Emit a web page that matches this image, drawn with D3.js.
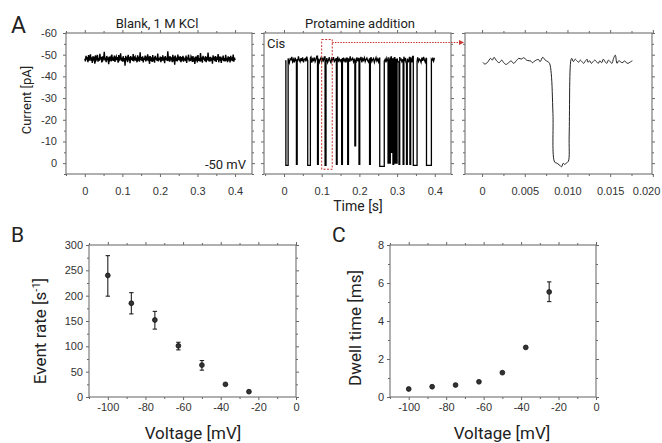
<!DOCTYPE html>
<html>
<head>
<meta charset="utf-8">
<script src="https://cdn.jsdelivr.net/npm/d3@7"></script>
<style>
    body { margin: 0; background: #fff; }
    svg { font-family: Roboto, "Noto Sans", sans-serif; }
    .tick line { stroke: #666; }
    .tick text { fill: #333; font-size: 11px; }
</style>
</head>
<body>
<svg id="vis" width="662" height="443"></svg>
<script>
// ---- data ----

// panel A, left: blank recording (pA), evenly sampled over 0 .. 0.4 s
const blankTrace = [
    -48.2,-46.9,-49.5,-47.8,-48.9,-46.5,-49.8,-47.3,-48.6,-50.2,
    -47.1,-48.8,-46.2,-49.3,-47.9,-48.4,-45.9,-49.7,-47.5,-48.1,
    -49.9,-46.8,-48.5,-47.2,-50.4,-47.7,-48.9,-46.4,-49.2,-47.6,
    -48.3,-51.3,-47.4,-48.7,-46.6,-49.4,-47.9,-48.2,-45.6,-49.1,
    -47.8,-48.6,-46.9,-50.1,-47.3,-48.8,-47.1,-49.6,-46.7,-48.4,
    -49.2,-47.5,-48.9,-46.3,-49.8,-47.6,-48.1,-50.6,-47.2,-48.7,
    -46.8,-49.3,-47.7,-48.5,-44.9,-49.5,-47.4,-48.2,-46.6,-49.9,
    -47.9,-48.3,-46.1,-49.4,-47.6,-48.8,-47.2,-50.3,-46.9,-48.6,
    -49.1,-47.3,-48.7,-46.5,-49.7,-47.8,-48.4,-46.8,-51.1,-47.5,
    -48.9,-47.1,-49.2,-46.4,-48.6,-47.7,-49.6,-46.9,-48.3,-47.4,
    -50.2,-47.9,-48.5,-45.8,-49.3,-47.2,-48.8,-46.7,-49.8,-47.6,
    -48.1,-46.3,-49.5,-47.8,-48.7,-47.1,-50.5,-46.9,-48.4,-47.5,
    -49.1,-46.6,-48.9,-47.3,-49.7,-47.8,-48.2,-46.1,-49.4,-47.6,
    -48.6,-47.2,-51.6,-47.9,-48.5,-46.8,-49.2,-47.4,-48.8,-46.5,
    -49.9,-47.7,-48.3,-45.4,-49.6,-47.1,-48.7,-46.9,-50.1,-47.5,
    -48.4,-47.8,-49.3,-46.6,-48.9,-47.3,-49.5,-46.8,-48.2,-47.6,
    -47.4,-49.6,-46.2,-48.8,-47.7,-50.0,-46.9,-48.3,-47.1,-49.2,
    -48.5,-46.7,-49.4,-47.5,-48.0,-45.7,-49.1,-47.9,-48.6,-46.4,
    -49.8,-47.2,-48.4,-46.9,-50.7,-47.6,-48.1,-46.3,-49.5,-47.8,
    -48.7,-47.0,-49.3,-46.6,-48.9,-47.4,-51.0,-47.7,-48.2,-46.8,
    -49.0,-47.3,-48.6,-45.9,-49.7,-47.5,-48.3,-47.1,-49.4,-46.7,
    -48.8,-47.6,-50.3,-46.5,-48.5,-47.9,-49.1,-46.2,-48.7,-47.4,
    -49.6,-47.0,-48.4,-46.9,-49.9,-47.7,-48.0,-46.6,-49.2,-47.3,
    -48.9,-46.4,-49.5,-47.8,-48.2,-47.1,-50.1,-46.8,-48.6,-47.5
];
const blankSpan = [0, 0.4];

// panel A, middle: open-pore baseline (pA), evenly sampled over 0.003 .. 0.399 s
const cisBaseline = [
    -47.1,-48.3,-46.6,-48.9,-47.4,-46.2,-48.1,-47.7,-49.0,-46.8,
    -47.9,-46.4,-48.6,-47.2,-48.0,-46.9,-49.2,-47.5,-46.7,-48.4,
    -47.0,-48.8,-46.5,-47.8,-48.2,-46.9,-49.1,-47.3,-48.5,-46.6,
    -47.6,-48.9,-46.3,-48.0,-47.4,-48.7,-46.8,-47.9,-49.3,-47.1,
    -48.2,-46.5,-47.7,-48.6,-46.9,-48.1,-47.3,-49.0,-46.7,-47.8,
    -48.4,-46.4,-47.5,-48.8,-47.0,-46.3,-48.3,-47.6,-48.9,-46.8,
    -47.4,-48.2,-46.6,-49.1,-47.2,-48.0,-46.9,-47.7,-48.5,-46.5,
    -48.6,-47.1,-47.9,-46.4,-48.7,-47.5,-48.1,-46.8,-49.2,-47.3,
    -47.8,-48.4,-46.7,-48.0,-47.6,-46.2,-48.8,-47.0,-48.3,-46.9,
    -47.7,-49.0,-46.5,-48.2,-47.4,-48.6,-46.8,-47.9,-48.5,-47.2,
    -46.6,-48.1,-47.5,-48.9,-46.9,-47.8,-48.3,-46.4,-47.6,-48.7,
    -47.1,-48.0,-46.7,-48.4,-47.3,-46.9,-48.2,-47.7,-48.6,-47.0,
    -47.9,-46.5,-48.4,-47.2,-48.8,-46.7,-47.6,-49.0,-46.9,-48.1,
    -47.3,-48.6,-46.4,-47.8,-48.3,-47.0,-46.6,-48.9,-47.5,-48.0,
    -46.8,-47.7,-49.1,-47.1,-48.5,-46.3,-48.2,-47.4,-46.9,-48.7,
    -47.6,-48.1,-46.5,-49.2,-47.0,-47.9,-48.4,-46.7,-47.3,-48.8,
    -46.9,-48.0,-47.5,-46.4,-48.6,-47.2,-49.0,-47.7,-46.6,-48.3,
    -47.8,-46.9,-48.5,-47.1,-48.9,-46.5,-47.4,-48.2,-47.0,-48.6
];
const cisSpan = [0.003, 0.399];

// blockade events: [start s, end s, blocked current pA]
const cisEvents = [
    [0.005, 0.011, 1.0], [0.033, 0.035, 0.5], [0.063, 0.070, 1.0], [0.089, 0.091, 0.5],
    [0.109, 0.1115, 1.0], [0.139, 0.141, 0.5], [0.153, 0.155, 0.5], [0.169, 0.171, 0.5],
    [0.188, 0.190, -8.0], [0.199, 0.201, 0.5], [0.227, 0.229, 0.5], [0.254, 0.266, 1.5],
    [0.276, 0.278, 0.0], [0.280, 0.282, 0.0], [0.285, 0.287, -5.0], [0.289, 0.291, 0.5],
    [0.294, 0.296, 0.0], [0.298, 0.300, 0.0], [0.305, 0.307, 0.5], [0.316, 0.318, 0.5],
    [0.325, 0.327, 0.5], [0.334, 0.336, 0.5], [0.343, 0.353, 1.0], [0.378, 0.391, 1.0]
];

// zoomed window on the middle trace [s] and its current range [pA]
const zoomWindow = [0.1, 0.128];
const zoomWindowCurrent = [-57, 2.8];

// panel A, right: single event [time s, current pA]
const zoomTrace = [
    [0.0001,-46.5],[0.0003,-45.7],[0.0006,-46.3],[0.0010,-48.3],[0.0012,-47.5],[0.0014,-48.8],
    [0.0017,-47.2],[0.0020,-46.3],[0.0023,-47.5],[0.0025,-46.5],[0.0028,-45.5],[0.0031,-46.3],
    [0.0034,-47.1],[0.0037,-46.0],[0.0040,-47.2],[0.0043,-48.3],[0.0046,-48.0],[0.0049,-48.6],
    [0.0052,-47.5],[0.0055,-47.2],[0.0057,-47.1],[0.0059,-46.3],[0.0062,-47.2],[0.0066,-47.8],
    [0.0068,-46.8],[0.0071,-48.8],[0.0074,-47.5],[0.0077,-46.8],[0.0079,-46.0],[0.0081,-41.3],
    [0.0083,-22.9],[0.0085,-0.5],[0.0088,0.1],[0.0091,1.0],[0.0093,1.7],[0.0095,0.1],
    [0.0097,0.6],[0.0099,-0.2],[0.0101,-0.8],[0.0102,-13.0],[0.0104,-47.5],[0.0105,-48.3],
    [0.0107,-46.8],[0.0109,-47.9],[0.0111,-47.2],[0.0113,-46.5],[0.0115,-47.5],[0.0117,-46.8],
    [0.0119,-46.0],[0.0121,-47.1],[0.0123,-47.9],[0.0124,-46.5],[0.0126,-47.2],[0.0128,-46.0],
    [0.0130,-46.8],[0.0132,-47.5],[0.0134,-46.8],[0.0136,-46.0],[0.0138,-47.2],[0.0140,-46.3],
    [0.0142,-47.9],[0.0144,-46.8],[0.0146,-46.0],[0.0148,-47.5],[0.0150,-46.8],[0.0152,-46.0],
    [0.0154,-48.3],[0.0156,-49.8],[0.0158,-46.0],[0.0160,-47.2],[0.0162,-46.8],[0.0164,-46.3],
    [0.0166,-46.8],[0.0167,-47.2],[0.0169,-46.3],[0.0171,-46.0],[0.0173,-46.5],[0.0176,-47.2]
];

// panels B and C
const voltages = [-100, -87.5, -75, -62.5, -50, -37.5, -25];
const eventRate = [240, 185, 152, 101, 63, 25, 10.5];
const eventRateLow = [199, 164, 134, 93, 53, 25, 10.5];
const eventRateHigh = [279, 206, 169, 108, 72, 25, 10.5];
const dwellTime = [0.42, 0.54, 0.63, 0.80, 1.28, 2.61, 5.53];
const dwellLow = [0.42, 0.54, 0.63, 0.80, 1.28, 2.61, 5.02];
const dwellHigh = [0.42, 0.54, 0.63, 0.80, 1.28, 2.61, 6.06];

// tick values
const traceYTicks = [-60, -50, -40, -30, -20, -10, 0];
const traceYMinor = [-55, -45, -35, -25, -15, -5, 5];
const timeTicks = [0, 0.1, 0.2, 0.3, 0.4];
const timeMinor = [-0.05, 0.05, 0.15, 0.25, 0.35];
const zoomTimeTicks = [0, 0.005, 0.010, 0.015, 0.020];
const zoomTimeMinor = [-0.0025, 0.0025, 0.0075, 0.0125, 0.0175];
const voltTicks = [-100, -80, -60, -40, -20, 0];
const voltMinor = [-110, -90, -70, -50, -30, -10];
const rateTicks = [0, 50, 100, 150, 200, 250, 300];
const rateMinor = [25, 75, 125, 175, 225, 275];
const dwellTicks = [0, 2, 4, 6, 8];
const dwellMinor = [1, 3, 5, 7];

const svg = d3.select("#vis");
const FRAME = "#707070";

/**
 * make a framed panel with scales; box = {l, r, t, b} in pixels
 */
function makePanel(box, xDomain, yDomain){
    const x = d3.scaleLinear().domain(xDomain).range([box.l, box.r]);
    const y = d3.scaleLinear().domain(yDomain).range([box.b, box.t]);
    const g = svg.append("g");
    return {box: box, x: x, y: y, g: g};
}

// ticks outward on all four sides, labels on left and bottom only
function drawAxes(p, o){
    const b = p.box;
    const sides = [
        [d3.axisBottom(p.x), `translate(0,${b.b})`, o.xTicks, o.xMinor, o.xFmt, o.xPad],
        [d3.axisTop(p.x), `translate(0,${b.t})`, o.xTicks, o.xMinor, null, 0],
        [d3.axisLeft(p.y), `translate(${b.l},0)`, o.yTicks, o.yMinor, o.yFmt, o.yPad],
        [d3.axisRight(p.y), `translate(${b.r},0)`, o.yTicks, o.yMinor, null, 0]
    ];
    sides.forEach(function(s, i){
        const major = s[0].tickValues(s[2]).tickSize(3).tickPadding(s[5])
            .tickFormat(s[4] ? s[4] : () => "");
        const ax = p.g.append("g").attr("transform", s[1]).call(major)
            .call(gg => gg.select(".domain").remove());
        if (i === 0) p.xAxisG = ax;
    });
    sides.forEach(function(s){
        const d = s[0].scale().domain();
        const vals = s[3].filter(v => v >= Math.min(d[0], d[1]) && v <= Math.max(d[0], d[1]));
        p.g.append("g").attr("transform", s[1])
            .call(s[0].tickValues(vals).tickSize(2).tickFormat(() => ""))
            .call(gg => gg.select(".domain").remove());
    });
    p.g.append("rect")
        .attr("x", b.l).attr("y", b.t)
        .attr("width", b.r - b.l).attr("height", b.b - b.t)
        .attr("fill", "none").attr("stroke", FRAME).attr("stroke-width", 1.1);
}

const plainFmt = d => String(d);
const timeFmt = d => d === 0 ? "0" : d3.format(".1f")(d);
const zoomFmt = d => d === 0 ? "0" : d3.format(".3f")(d);

// ---- panel A ----
const a1 = makePanel({l: 66, r: 252, t: 33, b: 174}, [-0.05, 0.445], [5, -60]);
const a2 = makePanel({l: 264, r: 451, t: 33, b: 174}, [-0.053, 0.443], [5, -60]);
const a3 = makePanel({l: 465, r: 652, t: 33, b: 174}, [-0.002, 0.0199], [5, -60]);

drawAxes(a1, {xTicks: timeTicks, xMinor: timeMinor, xFmt: timeFmt, xPad: 10,
    yTicks: traceYTicks, yMinor: traceYMinor, yFmt: plainFmt, yPad: 6});
drawAxes(a2, {xTicks: timeTicks, xMinor: timeMinor, xFmt: timeFmt, xPad: 10,
    yTicks: traceYTicks, yMinor: traceYMinor, yFmt: null, yPad: 0});
drawAxes(a3, {xTicks: zoomTimeTicks, xMinor: zoomTimeMinor, xFmt: zoomFmt, xPad: 10,
    yTicks: traceYTicks, yMinor: traceYMinor, yFmt: null, yPad: 0});
// last label of the zoom panel sits against the page edge
a3.xAxisG.selectAll(".tick text").filter(d => Math.abs(d - 0.020) < 1e-9)
    .attr("text-anchor", "end").attr("x", 7);

const blankDt = (blankSpan[1] - blankSpan[0]) / (blankTrace.length - 1);
const blankPts = blankTrace.map((v, i) => [blankSpan[0] + i * blankDt, v]);
a1.g.append("path")
    .datum(blankPts)
    .attr("fill", "none").attr("stroke", "#000").attr("stroke-width", 1.4)
    .attr("d", d3.line().x(d => a1.x(d[0])).y(d => a1.y(d[1])));

// baseline samples with the blockade events cut in
const cisDt = (cisSpan[1] - cisSpan[0]) / (cisBaseline.length - 1);
const basePts = cisBaseline.map((v, i) => [cisSpan[0] + i * cisDt, v]);
const cisPts = [];
let k = 0;
basePts.forEach(function(p){
    while (k < cisEvents.length && cisEvents[k][0] <= p[0]){
        const e = cisEvents[k];
        const lv = cisPts.length ? cisPts[cisPts.length - 1][1] : p[1];
        cisPts.push([e[0], lv], [e[0], e[2]], [e[1], e[2]], [e[1], p[1]]);
        k++;
    }
    const inEvent = cisEvents.some(e => p[0] > e[0] && p[0] < e[1]);
    if (!inEvent) cisPts.push(p);
});
a2.g.append("path")
    .datum(cisPts)
    .attr("fill", "none").attr("stroke", "#000").attr("stroke-width", 1.3)
    .attr("d", d3.line().x(d => a2.x(d[0])).y(d => a2.y(d[1])));

a3.g.append("path")
    .datum(zoomTrace)
    .attr("fill", "none").attr("stroke", "#222").attr("stroke-width", 1)
    .attr("d", d3.line().curve(d3.curveCatmullRom).x(d => a3.x(d[0])).y(d => a3.y(d[1])));

// red zoom marker and arrow
const RED = "#c8352e";
const wx0 = a2.x(zoomWindow[0]), wx1 = a2.x(zoomWindow[1]);
const wy0 = a2.y(zoomWindowCurrent[0]), wy1 = a2.y(zoomWindowCurrent[1]);
svg.append("rect")
    .attr("x", wx0).attr("y", wy0)
    .attr("width", wx1 - wx0).attr("height", wy1 - wy0)
    .attr("fill", "none").attr("stroke", RED).attr("stroke-width", 1)
    .attr("stroke-dasharray", "2,1.5");
const arrowY = wy0 + 3;
svg.append("line")
    .attr("x1", wx1).attr("y1", arrowY).attr("x2", a3.box.l - 4).attr("y2", arrowY)
    .attr("stroke", RED).attr("stroke-width", 1).attr("stroke-dasharray", "1.5,1.2");
svg.append("path")
    .attr("d", `M${a3.box.l - 6},${arrowY - 2.5}L${a3.box.l - 1},${arrowY}L${a3.box.l - 6},${arrowY + 2.5}Z`)
    .attr("fill", RED);

// ---- panels B and C ----
const pb = makePanel({l: 89, r: 296, t: 245, b: 397}, [-110, 0], [0, 300]);
const pc = makePanel({l: 390, r: 596, t: 245, b: 397}, [-110, 0], [0, 8]);

drawAxes(pb, {xTicks: voltTicks, xMinor: voltMinor, xFmt: plainFmt, xPad: 3,
    yTicks: rateTicks, yMinor: rateMinor, yFmt: plainFmt, yPad: 3});
drawAxes(pc, {xTicks: voltTicks, xMinor: voltMinor, xFmt: plainFmt, xPad: 3,
    yTicks: dwellTicks, yMinor: dwellMinor, yFmt: plainFmt, yPad: 3});

function drawPoints(p, xs, ys, lo, hi){
    const rows = xs.map((v, i) => ({x: v, y: ys[i], lo: lo[i], hi: hi[i]}));
    const bars = rows.filter(d => d.hi - d.lo > 0);
    p.g.selectAll("line.err").data(bars).enter().append("line")
        .attr("class", "err")
        .attr("x1", d => p.x(d.x)).attr("x2", d => p.x(d.x))
        .attr("y1", d => p.y(d.lo)).attr("y2", d => p.y(d.hi))
        .attr("stroke", "#222").attr("stroke-width", 1.1);
    ["lo", "hi"].forEach(function(key){
        p.g.selectAll("line.cap-" + key).data(bars).enter().append("line")
            .attr("class", "cap-" + key)
            .attr("x1", d => p.x(d.x) - 2.2).attr("x2", d => p.x(d.x) + 2.2)
            .attr("y1", d => p.y(d[key])).attr("y2", d => p.y(d[key]))
            .attr("stroke", "#222").attr("stroke-width", 1.1);
    });
    p.g.selectAll("circle").data(rows).enter().append("circle")
        .attr("cx", d => p.x(d.x)).attr("cy", d => p.y(d.y))
        .attr("r", 2.4)
        .attr("fill", "#333").attr("stroke", "#111").attr("stroke-width", 0.8);
}
drawPoints(pb, voltages, eventRate, eventRateLow, eventRateHigh);
drawPoints(pc, voltages, dwellTime, dwellLow, dwellHigh);

// ---- text ----
function label(x, y, txt, size, anchor, rot){
    const t = svg.append("text")
        .attr("transform", `translate(${x},${y})` + (rot ? ` rotate(${rot})` : ""))
        .attr("text-anchor", anchor)
        .attr("font-size", size)
        .attr("fill", "#222")
        .text(txt);
    return t;
}
label(11, 33, "A", 23, "start");
label(11, 242, "B", 21, "start");
label(332, 242, "C", 21, "start");

label(157, 28, "Blank, 1 M KCl", 13, "middle");
label(360, 28, "Protamine addition", 13, "middle");
label(267, 48, "Cis", 13, "start");
label(246, 169, "-50 mV", 13, "end");
label(358, 211, "Time [s]", 14, "middle");
label(31, 100, "Current [pA]", 13, "middle", -90);

const rateLabel = label(46, 331, "Event rate [s", 17, "middle", -90);
rateLabel.append("tspan").attr("baseline-shift", "super").attr("font-size", 11).text("-1");
rateLabel.append("tspan").text("]");
label(361, 328, "Dwell time [ms]", 17, "middle", -90);
label(193, 439, "Voltage [mV]", 17, "middle");
label(502, 439, "Voltage [mV]", 17, "middle");
</script>
</body>
</html>
